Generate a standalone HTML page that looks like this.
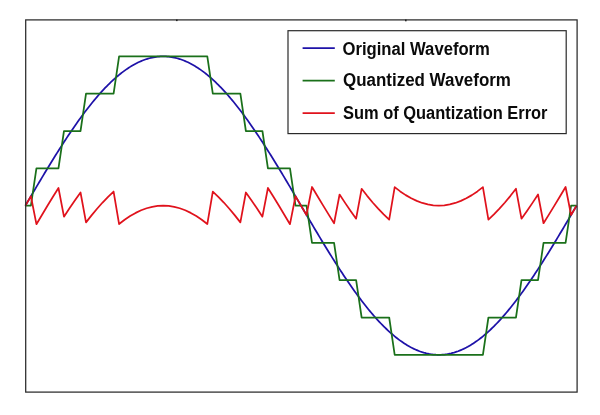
<!DOCTYPE html>
<html><head><meta charset="utf-8"><title>Quantization</title>
<style>
html,body{margin:0;padding:0;background:#fff;}
body{width:600px;height:415px;overflow:hidden;position:relative;font-family:"Liberation Sans",sans-serif;}
svg{position:absolute;left:0;top:0;display:block}
.lg{font-family:"Liberation Sans",sans-serif;font-weight:bold;font-size:18px;fill:#0a0a0a;}
</style></head><body>
<svg width="600" height="415" viewBox="0 0 600 415">
<rect x="0" y="0" width="600" height="415" fill="#fff"/>
<g fill="none" stroke-linejoin="round" stroke-linecap="butt" stroke-width="1.75">
<path d="M25.40,205.60 L26.78,203.26 L28.16,200.91 L29.53,198.57 L30.91,196.23 L32.29,193.89 L33.67,191.56 L35.05,189.23 L36.42,186.90 L37.80,184.58 L39.18,182.26 L40.56,179.95 L41.94,177.64 L43.31,175.34 L44.69,173.05 L46.07,170.77 L47.45,168.50 L48.83,166.23 L50.20,163.97 L51.58,161.73 L52.96,159.49 L54.34,157.27 L55.72,155.06 L57.09,152.86 L58.47,150.68 L59.85,148.50 L61.23,146.35 L62.61,144.20 L63.98,142.07 L65.36,139.96 L66.74,137.86 L68.12,135.78 L69.50,133.72 L70.87,131.68 L72.25,129.65 L73.63,127.64 L75.01,125.65 L76.39,123.69 L77.76,121.74 L79.14,119.81 L80.52,117.90 L81.90,116.02 L83.28,114.15 L84.65,112.31 L86.03,110.50 L87.41,108.70 L88.79,106.93 L90.17,105.19 L91.54,103.47 L92.92,101.77 L94.30,100.10 L95.68,98.46 L97.06,96.84 L98.43,95.25 L99.81,93.68 L101.19,92.15 L102.57,90.64 L103.95,89.16 L105.32,87.71 L106.70,86.29 L108.08,84.89 L109.46,83.53 L110.84,82.20 L112.21,80.90 L113.59,79.63 L114.97,78.39 L116.35,77.18 L117.73,76.00 L119.10,74.86 L120.48,73.74 L121.86,72.66 L123.24,71.61 L124.62,70.60 L125.99,69.62 L127.37,68.67 L128.75,67.76 L130.13,66.88 L131.51,66.03 L132.88,65.22 L134.26,64.44 L135.64,63.70 L137.02,63.00 L138.40,62.32 L139.77,61.69 L141.15,61.09 L142.53,60.52 L143.91,59.99 L145.29,59.50 L146.66,59.04 L148.04,58.62 L149.42,58.24 L150.80,57.89 L152.18,57.58 L153.55,57.30 L154.93,57.06 L156.31,56.86 L157.69,56.69 L159.07,56.57 L160.44,56.47 L161.82,56.42 L163.20,56.40 L164.58,56.42 L165.96,56.47 L167.33,56.57 L168.71,56.69 L170.09,56.86 L171.47,57.06 L172.85,57.30 L174.22,57.58 L175.60,57.89 L176.98,58.24 L178.36,58.62 L179.74,59.04 L181.11,59.50 L182.49,59.99 L183.87,60.52 L185.25,61.09 L186.63,61.69 L188.00,62.32 L189.38,63.00 L190.76,63.70 L192.14,64.44 L193.52,65.22 L194.89,66.03 L196.27,66.88 L197.65,67.76 L199.03,68.67 L200.41,69.62 L201.78,70.60 L203.16,71.61 L204.54,72.66 L205.92,73.74 L207.30,74.86 L208.67,76.00 L210.05,77.18 L211.43,78.39 L212.81,79.63 L214.19,80.90 L215.56,82.20 L216.94,83.53 L218.32,84.89 L219.70,86.29 L221.08,87.71 L222.45,89.16 L223.83,90.64 L225.21,92.15 L226.59,93.68 L227.97,95.25 L229.34,96.84 L230.72,98.46 L232.10,100.10 L233.48,101.77 L234.86,103.47 L236.23,105.19 L237.61,106.93 L238.99,108.70 L240.37,110.50 L241.75,112.31 L243.12,114.15 L244.50,116.02 L245.88,117.90 L247.26,119.81 L248.64,121.74 L250.01,123.69 L251.39,125.65 L252.77,127.64 L254.15,129.65 L255.53,131.68 L256.90,133.72 L258.28,135.78 L259.66,137.86 L261.04,139.96 L262.42,142.07 L263.79,144.20 L265.17,146.35 L266.55,148.50 L267.93,150.68 L269.31,152.86 L270.68,155.06 L272.06,157.27 L273.44,159.49 L274.82,161.73 L276.20,163.97 L277.57,166.23 L278.95,168.50 L280.33,170.77 L281.71,173.05 L283.09,175.34 L284.46,177.64 L285.84,179.95 L287.22,182.26 L288.60,184.58 L289.98,186.90 L291.35,189.23 L292.73,191.56 L294.11,193.89 L295.49,196.23 L296.87,198.57 L298.24,200.91 L299.62,203.26 L301.00,205.60 L302.38,207.94 L303.76,210.29 L305.13,212.63 L306.51,214.97 L307.89,217.31 L309.27,219.64 L310.65,221.97 L312.02,224.30 L313.40,226.62 L314.78,228.94 L316.16,231.25 L317.54,233.56 L318.91,235.86 L320.29,238.15 L321.67,240.43 L323.05,242.70 L324.43,244.97 L325.80,247.23 L327.18,249.47 L328.56,251.71 L329.94,253.93 L331.32,256.14 L332.69,258.34 L334.07,260.52 L335.45,262.70 L336.83,264.85 L338.21,267.00 L339.58,269.13 L340.96,271.24 L342.34,273.34 L343.72,275.42 L345.10,277.48 L346.47,279.52 L347.85,281.55 L349.23,283.56 L350.61,285.55 L351.99,287.51 L353.36,289.46 L354.74,291.39 L356.12,293.30 L357.50,295.18 L358.88,297.05 L360.25,298.89 L361.63,300.70 L363.01,302.50 L364.39,304.27 L365.77,306.01 L367.14,307.73 L368.52,309.43 L369.90,311.10 L371.28,312.74 L372.66,314.36 L374.03,315.95 L375.41,317.52 L376.79,319.05 L378.17,320.56 L379.55,322.04 L380.92,323.49 L382.30,324.91 L383.68,326.31 L385.06,327.67 L386.44,329.00 L387.81,330.30 L389.19,331.57 L390.57,332.81 L391.95,334.02 L393.33,335.20 L394.70,336.34 L396.08,337.46 L397.46,338.54 L398.84,339.59 L400.22,340.60 L401.59,341.58 L402.97,342.53 L404.35,343.44 L405.73,344.32 L407.11,345.17 L408.48,345.98 L409.86,346.76 L411.24,347.50 L412.62,348.20 L414.00,348.88 L415.37,349.51 L416.75,350.11 L418.13,350.68 L419.51,351.21 L420.89,351.70 L422.26,352.16 L423.64,352.58 L425.02,352.96 L426.40,353.31 L427.78,353.62 L429.15,353.90 L430.53,354.14 L431.91,354.34 L433.29,354.51 L434.67,354.63 L436.04,354.73 L437.42,354.78 L438.80,354.80 L440.18,354.78 L441.56,354.73 L442.93,354.63 L444.31,354.51 L445.69,354.34 L447.07,354.14 L448.45,353.90 L449.82,353.62 L451.20,353.31 L452.58,352.96 L453.96,352.58 L455.34,352.16 L456.71,351.70 L458.09,351.21 L459.47,350.68 L460.85,350.11 L462.23,349.51 L463.60,348.88 L464.98,348.20 L466.36,347.50 L467.74,346.76 L469.12,345.98 L470.49,345.17 L471.87,344.32 L473.25,343.44 L474.63,342.53 L476.01,341.58 L477.38,340.60 L478.76,339.59 L480.14,338.54 L481.52,337.46 L482.90,336.34 L484.27,335.20 L485.65,334.02 L487.03,332.81 L488.41,331.57 L489.79,330.30 L491.16,329.00 L492.54,327.67 L493.92,326.31 L495.30,324.91 L496.68,323.49 L498.05,322.04 L499.43,320.56 L500.81,319.05 L502.19,317.52 L503.57,315.95 L504.94,314.36 L506.32,312.74 L507.70,311.10 L509.08,309.43 L510.46,307.73 L511.83,306.01 L513.21,304.27 L514.59,302.50 L515.97,300.70 L517.35,298.89 L518.72,297.05 L520.10,295.18 L521.48,293.30 L522.86,291.39 L524.24,289.46 L525.61,287.51 L526.99,285.55 L528.37,283.56 L529.75,281.55 L531.13,279.52 L532.50,277.48 L533.88,275.42 L535.26,273.34 L536.64,271.24 L538.02,269.13 L539.39,267.00 L540.77,264.85 L542.15,262.70 L543.53,260.52 L544.91,258.34 L546.28,256.14 L547.66,253.93 L549.04,251.71 L550.42,249.47 L551.80,247.23 L553.17,244.97 L554.55,242.70 L555.93,240.43 L557.31,238.15 L558.69,235.86 L560.06,233.56 L561.44,231.25 L562.82,228.94 L564.20,226.62 L565.58,224.30 L566.95,221.97 L568.33,219.64 L569.71,217.31 L571.09,214.97 L572.47,212.63 L573.84,210.29 L575.22,207.94 L576.60,205.60" stroke="#1e12a8"/>
<path d="M25.40,205.60 L30.91,205.60 L36.42,168.30 L41.94,168.30 L47.45,168.30 L52.96,168.30 L58.47,168.30 L63.98,131.00 L69.50,131.00 L75.01,131.00 L80.52,131.00 L86.03,93.70 L91.54,93.70 L97.06,93.70 L102.57,93.70 L108.08,93.70 L113.59,93.70 L119.10,56.40 L124.62,56.40 L130.13,56.40 L135.64,56.40 L141.15,56.40 L146.66,56.40 L152.18,56.40 L157.69,56.40 L163.20,56.40 L168.71,56.40 L174.22,56.40 L179.74,56.40 L185.25,56.40 L190.76,56.40 L196.27,56.40 L201.78,56.40 L207.30,56.40 L212.81,93.70 L218.32,93.70 L223.83,93.70 L229.34,93.70 L234.86,93.70 L240.37,93.70 L245.88,131.00 L251.39,131.00 L256.90,131.00 L262.42,131.00 L267.93,168.30 L273.44,168.30 L278.95,168.30 L284.46,168.30 L289.98,168.30 L295.49,205.60 L301.00,205.60 L306.51,205.60 L312.02,242.90 L317.54,242.90 L323.05,242.90 L328.56,242.90 L334.07,242.90 L339.58,280.20 L345.10,280.20 L350.61,280.20 L356.12,280.20 L361.63,317.50 L367.14,317.50 L372.66,317.50 L378.17,317.50 L383.68,317.50 L389.19,317.50 L394.70,354.80 L400.22,354.80 L405.73,354.80 L411.24,354.80 L416.75,354.80 L422.26,354.80 L427.78,354.80 L433.29,354.80 L438.80,354.80 L444.31,354.80 L449.82,354.80 L455.34,354.80 L460.85,354.80 L466.36,354.80 L471.87,354.80 L477.38,354.80 L482.90,354.80 L488.41,317.50 L493.92,317.50 L499.43,317.50 L504.94,317.50 L510.46,317.50 L515.97,317.50 L521.48,280.20 L526.99,280.20 L532.50,280.20 L538.02,280.20 L543.53,242.90 L549.04,242.90 L554.55,242.90 L560.06,242.90 L565.58,242.90 L571.09,205.60 L576.60,205.60" stroke="#1a701a"/>
<path d="M25.40,205.60 L30.91,196.23 L36.42,224.20 L41.94,214.94 L47.45,205.80 L52.96,196.79 L58.47,187.98 L63.98,216.67 L69.50,208.32 L75.01,200.25 L80.52,192.50 L86.03,222.40 L91.54,215.37 L97.06,208.74 L102.57,202.54 L108.08,196.79 L113.59,191.53 L119.10,224.06 L124.62,219.80 L130.13,216.08 L135.64,212.90 L141.15,210.29 L146.66,208.24 L152.18,206.78 L157.69,205.89 L163.20,205.60 L168.71,205.89 L174.22,206.78 L179.74,208.24 L185.25,210.29 L190.76,212.90 L196.27,216.08 L201.78,219.80 L207.30,224.06 L212.81,191.53 L218.32,196.79 L223.83,202.54 L229.34,208.74 L234.86,215.37 L240.37,222.40 L245.88,192.50 L251.39,200.25 L256.90,208.32 L262.42,216.67 L267.93,187.98 L273.44,196.79 L278.95,205.80 L284.46,214.94 L289.98,224.20 L295.49,196.23 L301.00,205.60 L306.51,214.97 L312.02,187.00 L317.54,196.26 L323.05,205.40 L328.56,214.41 L334.07,223.22 L339.58,194.53 L345.10,202.88 L350.61,210.95 L356.12,218.70 L361.63,188.80 L367.14,195.83 L372.66,202.46 L378.17,208.66 L383.68,214.41 L389.19,219.67 L394.70,187.14 L400.22,191.40 L405.73,195.12 L411.24,198.30 L416.75,200.91 L422.26,202.96 L427.78,204.42 L433.29,205.31 L438.80,205.60 L444.31,205.31 L449.82,204.42 L455.34,202.96 L460.85,200.91 L466.36,198.30 L471.87,195.12 L477.38,191.40 L482.90,187.14 L488.41,219.67 L493.92,214.41 L499.43,208.66 L504.94,202.46 L510.46,195.83 L515.97,188.80 L521.48,218.70 L526.99,210.95 L532.50,202.88 L538.02,194.53 L543.53,223.22 L549.04,214.41 L554.55,205.40 L560.06,196.26 L565.58,187.00 L571.09,214.97 L576.60,205.60" stroke="#e0121c"/>
</g>
<rect x="25.7" y="19.9" width="551.4" height="372.2" fill="none" stroke="#2a2a2a" stroke-width="1.25"/>
<rect x="176" y="19.5" width="1.6" height="1.6" fill="#222"/>
<rect x="405" y="19.5" width="1.6" height="1.8" fill="#222"/>
<rect x="288" y="30.7" width="278.2" height="102.9" fill="#fff" stroke="#2a2a2a" stroke-width="1.2"/>
<g stroke-width="1.9" fill="none">
<line x1="302.6" y1="48.1" x2="334.8" y2="48.1" stroke="#1e12a8"/>
<line x1="302.6" y1="80.6" x2="334.8" y2="80.6" stroke="#1a701a"/>
<line x1="302.6" y1="113.1" x2="334.8" y2="113.1" stroke="#e0121c"/>
</g>
<text class="lg" x="342.5" y="54.9" textLength="147.4" lengthAdjust="spacingAndGlyphs">Original Waveform</text>
<text class="lg" x="343" y="85.7" textLength="167.9" lengthAdjust="spacingAndGlyphs">Quantized Waveform</text>
<text class="lg" x="343" y="118.8" textLength="204.5" lengthAdjust="spacingAndGlyphs">Sum of Quantization Error</text>
</svg>
</body></html>
